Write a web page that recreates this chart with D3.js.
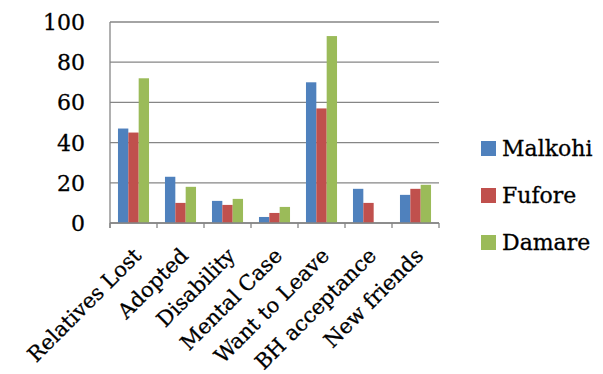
<!DOCTYPE html>
<html><head><meta charset="utf-8">
<script src="https://cdn.jsdelivr.net/npm/d3@7"></script>
<style>body{margin:0;background:#fff}svg{display:block}text{font-family:"DejaVu Serif",serif;fill:#000;stroke:#000;stroke-width:0.3px}</style>
</head><body>
<svg id="c" width="603" height="374"></svg>
<script>
const categories = ["Relatives Lost","Adopted","Disability","Mental Case","Want to Leave","BH acceptance","New friends"];
const seriesNames = ["Malkohi","Fufore","Damare"];
const malkohi = [47,23,11,3,70,17,14];
const fufore  = [45,10,9,5,57,10,17];
const damare  = [72,18,12,8,93,0,19];
const yTicks = [0,20,40,60,80,100];
const colors = ["#4F81BD","#C0504D","#9BBB59"];
const seriesValues = [malkohi,fufore,damare];

const svg = d3.select("#c");
const L=110, R=439, T=22, B=223;
const x = d3.scaleBand().domain(categories).range([L,R]).paddingInner(0).paddingOuter(0);
const y = d3.scaleLinear().domain([0,100]).range([B,T]);
const inner = d3.scaleBand().domain(seriesNames).range([0,x.bandwidth()]).paddingInner(0).paddingOuter(0.77);

// gridlines
svg.append("g").selectAll("line").data(yTicks).join("line")
  .attr("x1",L).attr("x2",R).attr("y1",d=>y(d)).attr("y2",d=>y(d))
  .attr("stroke","#868686").attr("stroke-width",1.3);

// y labels
svg.append("g").selectAll("text").data(yTicks).join("text")
  .attr("x",85).attr("y",d=>y(d)).attr("dy","0.36em").attr("text-anchor","end")
  .attr("font-size",22).text(d=>d);

// bars
const g = svg.append("g");
seriesValues.forEach((vals,si)=>{
  g.append("g").selectAll("rect").data(categories).join("rect")
   .attr("x",(c)=>x(c)+inner(seriesNames[si]))
   .attr("width",inner.bandwidth())
   .attr("y",(c,i)=>y(vals[i]))
   .attr("height",(c,i)=>B-y(vals[i]))
   .attr("fill",colors[si]);
});

// axis lines
svg.append("line").attr("x1",L).attr("x2",L).attr("y1",T).attr("y2",B+5).attr("stroke","#868686").attr("stroke-width",1.3);
svg.append("line").attr("x1",L).attr("x2",R).attr("y1",B).attr("y2",B).attr("stroke","#868686").attr("stroke-width",1.3);
const bounds = categories.map(c=>x(c)).concat([R]);
svg.append("g").selectAll("line").data(bounds).join("line")
  .attr("x1",d=>d).attr("x2",d=>d).attr("y1",B).attr("y2",B+5)
  .attr("stroke","#868686").attr("stroke-width",1.3);

// x labels
svg.append("g").selectAll("text").data(categories).join("text")
  .attr("text-anchor","end").attr("font-size",21)
  .attr("transform",c=>`translate(${x(c)+x.bandwidth()/2+9},${B+34}) rotate(-45)`)
  .text(c=>c);

// legend
const lg = svg.append("g");
seriesNames.forEach((s,i)=>{
  const cy = 148 + i*47;
  lg.append("rect").attr("x",481).attr("y",cy-7).attr("width",15).attr("height",15).attr("fill",colors[i]);
  lg.append("text").attr("x",502).attr("y",cy).attr("dy","0.36em").attr("font-size",22).text(s);
});
</script>
</body></html>
